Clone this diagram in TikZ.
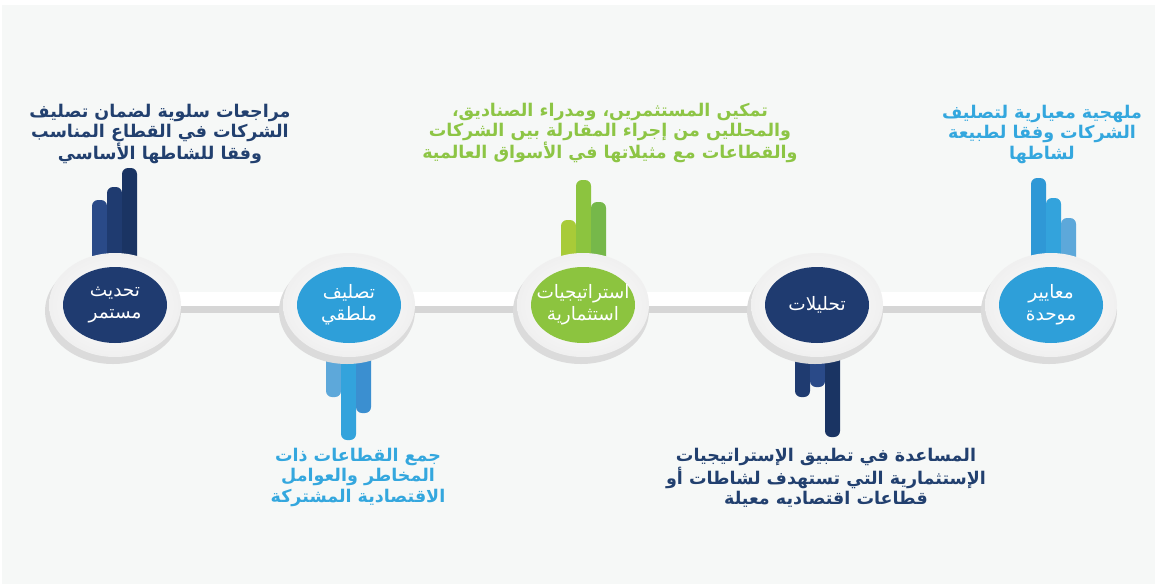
\documentclass[tikz,border=0pt]{standalone}
\usepackage{fontspec}
\newfontfamily\arabicfont[Script=Arabic]{DejaVu Sans}
\TeXXeTstate=1
\usetikzlibrary{shapes.geometric}

\definecolor{backdrop}{HTML}{F6F8F7}
\definecolor{navy}{HTML}{1F3B70}
\definecolor{navylight}{HTML}{2A4A88}
\definecolor{navydark}{HTML}{1A3463}
\definecolor{skyblue}{HTML}{2E9FD9}
\definecolor{skyblueA}{HTML}{2F98D6}
\definecolor{skyblueB}{HTML}{33A3DC}
\definecolor{skyblueC}{HTML}{5DA8DA}
\definecolor{skyblueD}{HTML}{3B8FD0}
\definecolor{leafgreen}{HTML}{8CC43F}
\definecolor{leafgreenA}{HTML}{A8CB38}
\definecolor{leafgreenC}{HTML}{76B84A}
\definecolor{navytext}{HTML}{22406F}
\definecolor{bluetext}{HTML}{34A7DE}
\definecolor{greentext}{HTML}{8DC545}

\begin{document}
\begin{tikzpicture}
	[x=1pt,y=-1pt,
		ringshadow/.style={ellipse,fill=black!14,inner sep=0pt,minimum width=136pt,minimum
		height=106pt},
		ring/.style={ellipse,inner color=white,outer color=black!6,inner sep=0pt,minimum
		width=132pt,minimum height=104pt},
		disc/.style={ellipse,fill=#1,inner sep=0pt,minimum width=104pt,minimum height=76pt},
		title/.style={text=white,font=\arabicfont\fontsize{18.5}{22}\selectfont,align=center},
		caption/.style={text=#1,font=\arabicfont\bfseries\fontsize{17.5}{20.5}\selectfont,align=center},
		bar/.style={fill=#1,rounded corners=6pt},
		link/.style={white,line width=14pt},
		linkshadow/.style={black!16,line width=14pt}]

	\useasboundingbox (0,0) rectangle (1155,584);
	\fill[white] (0,0) rectangle (1155,584);
	\fill[backdrop] (2,5) rectangle (1155,584);

	\coordinate (p1) at (115,305);
	\coordinate (p2) at (349,305);
	\coordinate (p3) at (583,305);
	\coordinate (p4) at (817,305);
	\coordinate (p5) at (1051,305);

	% bars above
	\fill[bar=navylight] (92,200) rectangle (107,270);
	\fill[bar=navy] (107,187) rectangle (122,270);
	\fill[bar=navydark] (122,168) rectangle (137,270);

	\fill[bar=leafgreenA] (561,220) rectangle (576,270);
	\fill[bar=leafgreen] (576,180) rectangle (591,270);
	\fill[bar=leafgreenC] (591,202) rectangle (606,270);

	\fill[bar=skyblueA] (1031,178) rectangle (1046,270);
	\fill[bar=skyblueB] (1046,198) rectangle (1061,270);
	\fill[bar=skyblueC] (1061,218) rectangle (1076,270);

	% bars below
	\fill[bar=skyblueC] (326,340) rectangle (341,397);
	\fill[bar=skyblueB] (341,340) rectangle (356,440);
	\fill[bar=skyblueD] (356,340) rectangle (371,413);

	\fill[bar=navy] (795,340) rectangle (810,397);
	\fill[bar=navylight] (810,340) rectangle (825,387);
	\fill[bar=navydark] (825,340) rectangle (840,437);

	% links
	\draw[linkshadow] ([yshift=-1pt]p1) -- ([yshift=-1pt]p2) -- ([yshift=-1pt]p3)
		-- ([yshift=-1pt]p4) -- ([yshift=-1pt]p5);
	\draw[link] ([yshift=6pt]p1) -- ([yshift=6pt]p2) -- ([yshift=6pt]p3)
		-- ([yshift=6pt]p4) -- ([yshift=6pt]p5);

	% rings
	\node[ringshadow] (s1) at ([shift={(-2pt,-6pt)}]p1) {};
	\node[ringshadow] (s2) at ([shift={(-2pt,-6pt)}]p2) {};
	\node[ringshadow] (s3) at ([shift={(-2pt,-6pt)}]p3) {};
	\node[ringshadow] (s4) at ([shift={(-2pt,-6pt)}]p4) {};
	\node[ringshadow] (s5) at ([shift={(-2pt,-6pt)}]p5) {};
	\node[ring] (r1) at (p1) {};
	\node[ring] (r2) at (p2) {};
	\node[ring] (r3) at (p3) {};
	\node[ring] (r4) at (p4) {};
	\node[ring] (r5) at (p5) {};

	\node[disc=navy] (update) at (p1) {};
	\node[disc=skyblue] (sorting) at (p2) {};
	\node[disc=leafgreen] (strategy) at (p3) {};
	\node[disc=navy] (analysis) at (p4) {};
	\node[disc=skyblue] (criteria) at (p5) {};

	\node[title] (update-t) at (update) {\beginR تحديث\endR\\\beginR مستمر\endR};
	\node[title] (sorting-t) at (sorting) {\beginR تصليف\endR\\\beginR ملطقي\endR};
	\node[title] (strategy-t) at (strategy) {\beginR استراتيجيات\endR\\\beginR استثمارية\endR};
	\node[title] (analysis-t) at (analysis) {\beginR تحليلات\endR};
	\node[title] (criteria-t) at (criteria) {\beginR معايير\endR\\\beginR موحدة\endR};

	% captions
	\node[caption=navytext] (update-c) at (160,134)
		{\beginR مراجعات سلوية لضمان تصليف\endR\\\beginR الشركات في القطاع المناسب\endR\\\beginR وفقا للشاطها الأساسي\endR};
	\node[caption=greentext] (strategy-c) at (610,133)
		{\beginR تمكيں المستثمريں، ومدراء الصناديق،\endR\\\beginR والمحلليں من إجراء المقارلة بيں الشركات\endR\\\beginR والقطاعات مع مثيلاتها في الأسواق العالمية\endR};
	\node[caption=bluetext] (criteria-c) at (1042,134)
		{\beginR ملهجية معيارية لتصليف\endR\\\beginR الشركات وفقا لطبيعة\endR\\\beginR لشاطها\endR};
	\node[caption=bluetext] (sorting-c) at (358,477)
		{\beginR جمع القطاعات ذات\endR\\\beginR المخاطر والعوامل\endR\\\beginR الاقتصادية المشتركة\endR};
	\node[caption=navytext] (analysis-c) at (826,478)
		{\beginR المساعدة في تطبيق الإستراتيجيات\endR\\\beginR الإستثمارية التي تستهدف لشاطات أو\endR\\\beginR قطاعات اقتصاديه معيلة\endR};

\end{tikzpicture}
\end{document}
